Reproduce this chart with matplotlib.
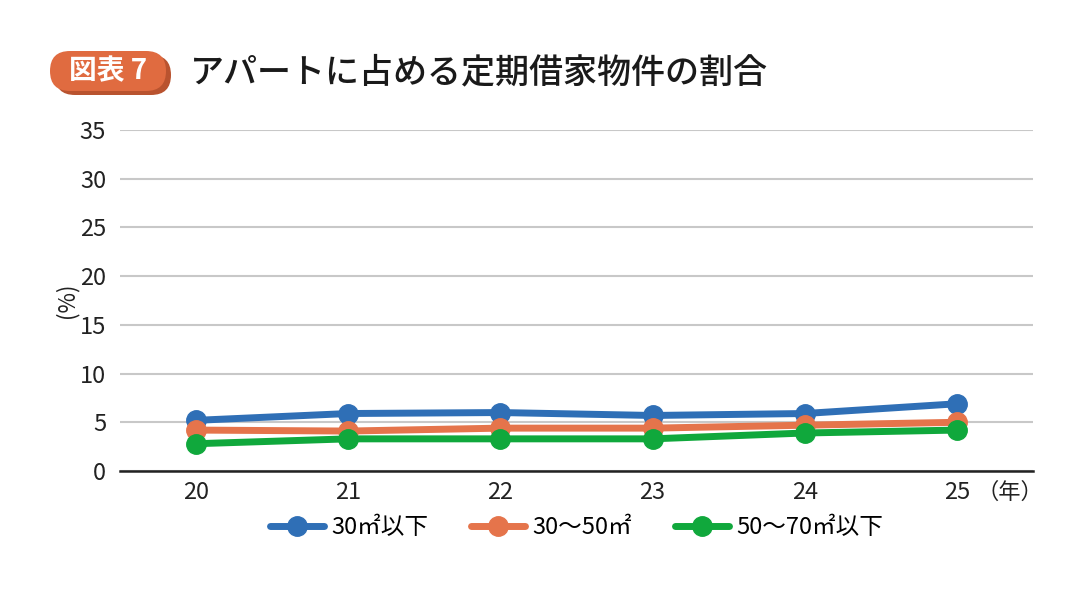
import matplotlib
matplotlib.use("Agg")
import matplotlib.pyplot as plt
from matplotlib.patches import FancyBboxPatch

plt.rcParams['font.family'] = ['Noto Sans CJK JP', 'DejaVu Sans']

years = ['20', '21', '22', '23', '24', '25']
small = [5.2, 5.9, 6.0, 5.7, 5.9, 6.9]      # 30㎡以下
middle = [4.2, 4.1, 4.4, 4.4, 4.7, 5.0]     # 30～50㎡
large = [2.8, 3.3, 3.3, 3.3, 3.9, 4.2]      # 50～70㎡以下
names = ['30㎡以下', '30～50㎡', '50～70㎡以下']
colors = ['#2f6fb6', '#e5744b', '#10a83c']
yticks = [0, 5, 10, 15, 20, 25, 30, 35]

fig = plt.figure(figsize=(10.84, 5.9), dpi=100)
ax = fig.add_axes([120 / 1084, 1 - 471 / 590, 913 / 1084, 341 / 590])

x = list(range(len(years)))
for vals, name, c in zip([small, middle, large], names, colors):
    ax.plot(x, vals, color=c, lw=5, marker='o', ms=14, label=name,
            solid_capstyle='round', zorder=3)

ax.set_xlim(-0.5, len(years) - 0.5)
ax.set_ylim(0, 35)
ax.set_yticks(yticks)
ax.set_xticks(x)
ax.set_xticklabels(years)
ax.tick_params(axis='both', length=0, labelsize=17, colors='#222222')
ax.tick_params(axis='y', pad=10)
ax.tick_params(axis='x', pad=7)
ax.grid(axis='y', color='#c8c8c8', lw=1.5)
ax.set_axisbelow(True)
for s in ['top', 'right', 'left']:
    ax.spines[s].set_visible(False)
ax.spines['bottom'].set_color('#222222')
ax.spines['bottom'].set_linewidth(1.8)

# y unit label
fig.text(67 / 1084, 1 - 300 / 590, '(%)', ha='center', va='center',
         fontsize=16, color='#222222', rotation=90)
fig.text(1010 / 1084, 1 - 492 / 590, '（年）', ha='center', va='center',
         fontsize=16, color='#222222')

ax.legend(loc='center', bbox_to_anchor=(0.5, -0.165), ncol=3, frameon=False,
          fontsize=17, handlelength=2.3, columnspacing=1.8, handletextpad=0.3)

# title badge, drawn in pixel space
bg = fig.add_axes([0, 0, 1, 1], zorder=-1)
bg.set_xlim(0, 1084)
bg.set_ylim(590, 0)
bg.axis('off')
bg.add_patch(FancyBboxPatch((55, 55), 116, 40,
                            boxstyle='round,pad=0,rounding_size=20',
                            fc='#b9532f', ec='none'))
bg.add_patch(FancyBboxPatch((50, 51), 116, 40,
                            boxstyle='round,pad=0,rounding_size=20',
                            fc='#e06b40', ec='none'))
bg.text(108, 71, '図表 7', ha='center', va='center',
        fontsize=20, color='white', weight='bold')
bg.text(190, 73, 'アパートに占める定期借家物件の割合',
        ha='left', va='center', fontsize=24.5, color='#1a1a1a', weight='medium')

fig.savefig('out.png', dpi=100, facecolor='white')
